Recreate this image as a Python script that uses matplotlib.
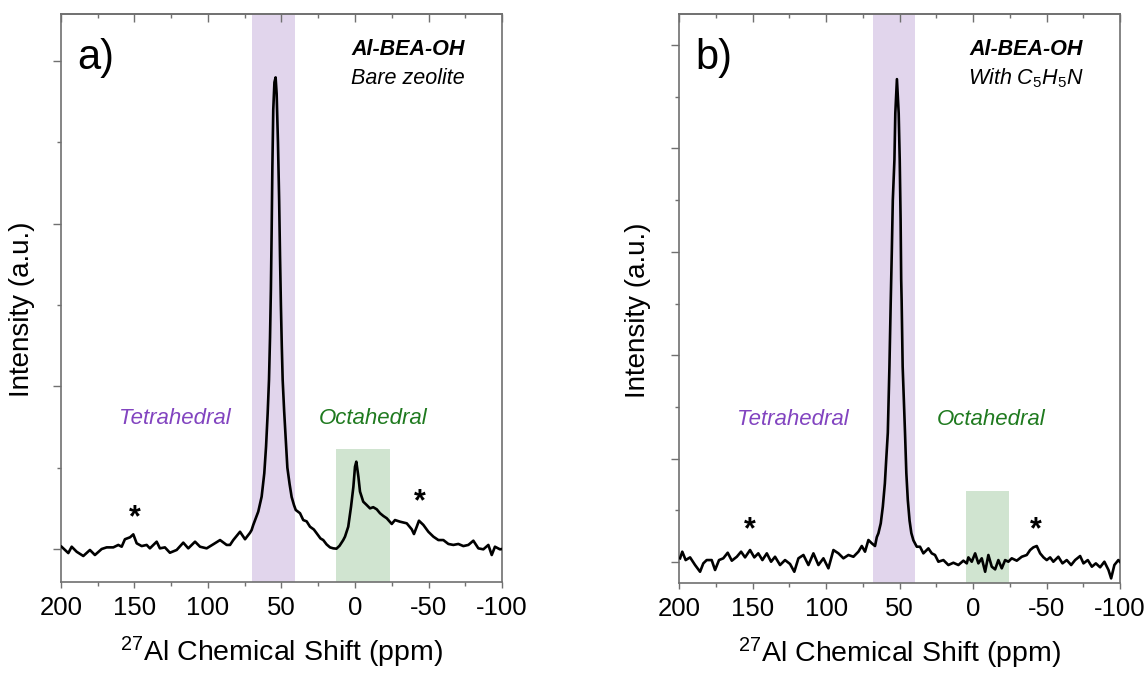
import numpy as np
import matplotlib
matplotlib.use("Agg")
import matplotlib.pyplot as plt
from matplotlib.ticker import MultipleLocator, NullFormatter

plt.rcParams['font.family'] = ['Liberation Sans', 'DejaVu Sans']
plt.rcParams['mathtext.fontset'] = 'custom'
plt.rcParams['mathtext.rm'] = 'Liberation Sans'
plt.rcParams['mathtext.it'] = 'Liberation Sans:italic'
plt.rcParams['axes.unicode_minus'] = False

# -----------------------------
# Data (ppm, intensity in y-tick units)
# -----------------------------
a_ppm = [199.6, 195.0, 192.7, 189.3, 184.8, 180.3, 176.9, 172.3, 168.9, 164.4,
         161.0, 158.7, 156.5, 153.0, 150.8, 148.5, 145.1, 141.7, 139.5, 134.9,
         132.7, 129.3, 125.9, 121.3, 116.8, 113.4, 108.8, 105.4, 100.9, 96.4,
         91.8, 87.3, 85.0, 82.8, 78.2, 74.8, 71.4, 70.3, 69.2, 65.8,
         63.5, 61.7, 60.5, 59.4, 58.5, 57.8, 57.2, 56.7, 56.2, 55.6,
         54.8, 54.0, 53.3, 52.4, 51.6, 51.0, 50.4, 49.8, 49.2, 48.2,
         47.2, 46.0, 44.5, 43.1, 41.5, 40.3, 37.4, 35.2, 32.9, 30.6,
         28.0, 26.1, 23.5, 21.6, 19.3, 17.0, 14.8, 12.6, 10.5, 8.0,
         6.8, 4.6, 2.7, 1.1, 0.0, -0.9, -2.3, -3.4, -5.6, -7.9,
         -10.2, -12.4, -14.8, -17.0, -19.3, -21.6, -25.0, -27.2, -30.6, -35.2,
         -38.6, -40.1, -42.0, -43.5, -46.5, -49.9, -53.3, -56.7, -60.1, -63.5,
         -66.9, -70.3, -73.7, -77.1, -80.5, -83.9, -87.3, -90.7, -93.0, -95.2,
         -98.6, -100.0]
a_int = [0.014, -0.025, 0.014, -0.017, -0.043, -0.006, -0.037, 0.000, 0.010, 0.010,
         0.025, 0.014, 0.060, 0.072, 0.090, 0.035, 0.018, 0.025, 0.004, 0.045,
         0.004, 0.010, -0.023, -0.006, 0.039, 0.004, 0.045, 0.014, 0.004, 0.029,
         0.055, 0.025, 0.025, 0.055, 0.106, 0.060, 0.100, 0.117, 0.148, 0.230,
         0.322, 0.466, 0.630, 0.835, 1.040, 1.30, 1.60, 1.95, 2.35, 2.70,
         2.87, 2.90, 2.80, 2.50, 2.15, 1.80, 1.50, 1.25, 1.04, 0.85,
         0.69, 0.50, 0.40, 0.32, 0.27, 0.24, 0.22, 0.178, 0.17, 0.137,
         0.12, 0.097, 0.065, 0.055, 0.028, 0.010, 0.004, 0.002, 0.020, 0.055,
         0.076, 0.137, 0.26, 0.383, 0.506, 0.537, 0.445, 0.353, 0.291, 0.271,
         0.250, 0.257, 0.244, 0.220, 0.203, 0.189, 0.154, 0.178, 0.168, 0.158,
         0.121, 0.092, 0.137, 0.174, 0.148, 0.106, 0.076, 0.055, 0.055, 0.031,
         0.025, 0.031, 0.018, 0.025, 0.051, 0.004, -0.002, 0.025, -0.037, 0.014,
         -0.002, 0.000]

b_ppm = [199.3, 197.8, 195.5, 192.5, 189.1, 185.7, 183.5, 181.2, 177.8, 175.5,
         172.8, 169.9, 166.9, 164.1, 160.7, 157.8, 155.1, 151.7, 148.8, 146.1,
         143.3, 140.3, 137.4, 134.7, 131.3, 127.9, 124.5, 121.6, 118.8, 115.4,
         112.0, 108.6, 105.2, 101.8, 98.4, 95.0, 91.6, 88.2, 84.8, 81.4,
         78.0, 75.7, 73.5, 71.2, 68.9, 66.7, 65.5, 64.4, 62.8, 61.4,
         60.0, 59.1, 58.0, 56.9, 56.0, 55.3, 54.6, 53.5, 52.9, 51.8,
         50.6, 49.9, 49.3, 48.9, 48.6, 47.9, 46.3, 45.4, 44.4, 43.2,
         42.0, 40.6, 38.3, 36.1, 33.8, 30.4, 28.1, 25.9, 23.6, 20.2,
         16.8, 13.4, 10.0, 6.6, 4.3, 3.2, 0.9, -1.4, -3.6, -5.9,
         -8.2, -10.4, -12.7, -15.0, -17.2, -19.5, -21.8, -24.0, -26.3, -29.7,
         -33.1, -36.5, -38.8, -41.0, -43.3, -45.6, -47.9, -50.1, -52.4, -54.6,
         -58.0, -60.8, -63.7, -66.7, -69.4, -72.8, -75.1, -78.0, -80.8, -83.5,
         -86.4, -89.3, -92.1, -93.9, -96.1, -98.8, -100.0]
b_int = [0.036, 0.100, 0.019, 0.045, -0.029, -0.094, -0.013, 0.019, 0.019, -0.077,
         0.019, 0.036, 0.090, 0.013, 0.051, 0.100, 0.045, 0.116, 0.045, 0.084,
         0.019, 0.084, 0.003, 0.051, -0.029, 0.019, -0.019, -0.094, 0.036, 0.068,
         -0.029, 0.084, -0.029, 0.036, -0.061, 0.116, 0.084, 0.036, 0.068, 0.051,
         0.100, 0.155, 0.100, 0.213, 0.181, 0.155, 0.240, 0.278, 0.374, 0.535,
         0.761, 0.986, 1.25, 1.89, 2.53, 2.99, 3.50, 3.89, 4.34, 4.67,
         4.34, 3.89, 3.31, 2.73, 2.53, 1.89, 1.25, 0.86, 0.60, 0.40,
         0.28, 0.21, 0.148, 0.148, 0.084, 0.132, 0.084, 0.068, 0.003, 0.019,
         -0.029, -0.007, -0.029, 0.013, -0.013, 0.045, 0.003, 0.084, -0.013, 0.036,
         -0.094, 0.068, -0.045, -0.071, 0.019, -0.061, 0.019, 0.003, 0.036, 0.013,
         0.051, 0.068, 0.116, 0.142, 0.155, 0.084, 0.045, 0.019, 0.045, 0.003,
         0.051, -0.013, 0.019, -0.029, 0.019, 0.058, -0.013, 0.019, -0.045, -0.013,
         -0.051, 0.003, -0.077, -0.158, -0.029, 0.019, 0.000]

# shaded regions (ppm from, ppm to, top)
a_tetra = (70, 41)
a_octa = (13, -24, 0.615)
b_tetra = (68, 39.5)
b_octa = (5, -24.5, 0.687)

# spinning sidebands (*)
a_stars = [(150.1, 0.19), (-44.2, 0.29)]
b_stars = [(151.7, 0.31), (-42.7, 0.31)]

PURPLE_FILL = '#e1d5ec'
GREEN_FILL = '#d0e4d0'
PURPLE_TXT = '#8244c0'
GREEN_TXT = '#1f7a1f'
SPINE = '#707070'


def draw_panel(ax, ppm, inten, tetra, octa, stars, ylim, letter, line2, ymax_tick):
    ax.axvspan(tetra[0], tetra[1], color=PURPLE_FILL, lw=0, zorder=0)
    ax.fill_between([octa[0], octa[1]], [ylim[0]] * 2, [octa[2]] * 2,
                    color=GREEN_FILL, lw=0, zorder=0)
    ax.plot(ppm, inten, color='black', lw=1.9, zorder=3)

    ax.set_xlim(200, -100)
    ax.set_ylim(*ylim)

    ax.xaxis.set_major_locator(MultipleLocator(50))
    ax.xaxis.set_minor_locator(MultipleLocator(25))
    ax.set_yticks(np.arange(0, ymax_tick + 1, 1))
    ax.yaxis.set_minor_locator(MultipleLocator(0.5))
    ax.yaxis.set_major_formatter(NullFormatter())
    ax.tick_params(axis='x', which='major', direction='out', length=4, width=1,
                   color=SPINE, labelsize=18.5, pad=6)
    ax.tick_params(axis='x', which='minor', direction='out', length=3, width=1, color=SPINE)
    ax.tick_params(axis='y', which='major', direction='out', length=6, width=1, color=SPINE)
    ax.tick_params(axis='y', which='minor', direction='out', length=3, width=1, color=SPINE)

    top = ax.secondary_xaxis('top')
    top.xaxis.set_major_locator(MultipleLocator(50))
    top.xaxis.set_minor_locator(MultipleLocator(25))
    top.xaxis.set_major_formatter(NullFormatter())
    top.tick_params(axis='x', which='major', direction='in', length=6, width=1, color=SPINE)
    top.tick_params(axis='x', which='minor', direction='in', length=3, width=1, color=SPINE)
    top.spines['top'].set_color(SPINE)
    top.spines['top'].set_linewidth(1.2)

    for s in ax.spines.values():
        s.set_color(SPINE)
        s.set_linewidth(1.2)

    ax.set_xlabel(r'$^{27}$Al Chemical Shift (ppm)', fontsize=20.5, labelpad=11)
    ax.set_ylabel('Intensity (a.u.)', fontsize=20)

    ax.text(0.036, 0.923, letter, transform=ax.transAxes, fontsize=30,
            ha='left', va='center')
    ax.text(0.787, 0.937, 'Al-BEA-OH', transform=ax.transAxes, fontsize=15.5,
            fontweight='bold', fontstyle='italic', ha='center', va='center')
    ax.text(0.787, 0.887, line2, transform=ax.transAxes, fontsize=15.5,
            fontstyle='italic', ha='center', va='center')
    ax.text(0.258, 0.287, 'Tetrahedral', transform=ax.transAxes, fontsize=16,
            fontstyle='italic', color=PURPLE_TXT, ha='center', va='center')
    ax.text(0.708, 0.287, 'Octahedral', transform=ax.transAxes, fontsize=16,
            fontstyle='italic', color=GREEN_TXT, ha='center', va='center')
    for x, y in stars:
        ax.text(x, y, '*', fontsize=22, fontweight='bold', ha='center', va='center')


fig = plt.figure(figsize=(11.48, 6.73), dpi=100)
ax_a = fig.add_axes([0.0531, 0.1352, 0.3842, 0.8440])
ax_b = fig.add_axes([0.5915, 0.1337, 0.3842, 0.8455])

draw_panel(ax_a, a_ppm, a_int, a_tetra, a_octa, a_stars, (-0.203, 3.29), 'a)',
           'Bare zeolite', 3)
draw_panel(ax_b, b_ppm, b_int, b_tetra, b_octa, b_stars, (-0.203, 5.30), 'b)',
           r'With C$_{\mathit{5}}$H$_{\mathit{5}}$N', 5)

ax_a.yaxis.set_label_coords(-0.058, 0.48)
ax_b.yaxis.set_label_coords(-0.063, 0.48)

fig.savefig('out.png', dpi=100)
